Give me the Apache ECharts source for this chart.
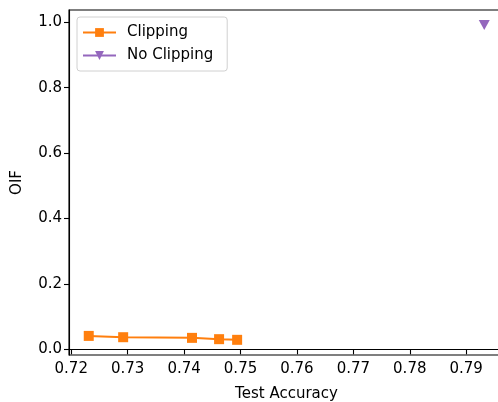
<!DOCTYPE html>
<html>
<head>
<meta charset="utf-8">
<script src="https://cdn.jsdelivr.net/npm/echarts@6/dist/echarts.min.js"></script>
<style>
html,body{margin:0;padding:0;background:#fff;}
#chart{width:498px;height:402px;}
</style>
</head>
<body>
<div id="chart"></div>
<script>
// data
var clipAcc = [0.7231, 0.7292, 0.7414, 0.7462, 0.7494];
var clipOif = [0.041, 0.037, 0.035, 0.031, 0.029];
var noClipAcc = [0.7932];
var noClipOif = [0.992];
var xTicks = [0.72, 0.73, 0.74, 0.75, 0.76, 0.77, 0.78, 0.79];
var yTicks = [0.0, 0.2, 0.4, 0.6, 0.8, 1.0];

function pairs(xs, ys){
	var out = [];
	for(var i=0;i<xs.length;i++){
		out.push([xs[i], ys[i]]);
	}
	return out;
}

var font = 'DejaVu Sans';
var fs = 15;
var myChart = echarts.init(document.getElementById('chart'));
var option = {
	animation:false,
	backgroundColor:'#fff',
	textStyle:{fontFamily:font},
	grid:{
		left:69,
		top:10,
		width:435,
		height:345,
		outerBoundsMode:'none',
		containLabel:false,
		show:true,
		borderColor:'#000',
		borderWidth:1.1
	},
	legend:{
		orient:'vertical',
		left:77,
		top:17,
		padding:[8,14,8,5],
		itemGap:8,
		itemWidth:33,
		itemHeight:11,
		backgroundColor:'#fff',
		borderColor:'#d0d0d0',
		borderWidth:1,
		borderRadius:3,
		textStyle:{fontFamily:font, fontSize:fs, color:'#000', padding:[0,0,0,6]},
		data:['Clipping','No Clipping']
	},
	xAxis:{
		type:'value',
		min:0.7196,
		max:0.7967,
		name:'Test Accuracy',
		nameLocation:'middle',
		nameGap:32,
		nameTextStyle:{fontFamily:font, fontSize:fs, color:'#000'},
		splitLine:{show:false},
		axisLine:{lineStyle:{color:'#000', width:1.1}},
		axisTick:{show:true, length:5, lineStyle:{color:'#000', width:1.1}, customValues:xTicks},
		axisLabel:{
			color:'#000', fontSize:fs, fontFamily:font, margin:7,
			customValues:xTicks,
			formatter:function(v){return v.toFixed(2);}
		}
	},
	yAxis:{
		type:'value',
		min:-0.0174,
		max:1.0376,
		name:'OIF',
		nameLocation:'middle',
		nameGap:44,
		nameTextStyle:{fontFamily:font, fontSize:fs, color:'#000'},
		splitLine:{show:false},
		axisLine:{show:true, lineStyle:{color:'#000', width:1.1}},
		axisTick:{show:true, length:5, lineStyle:{color:'#000', width:1.1}, customValues:yTicks},
		axisLabel:{
			color:'#000', fontSize:fs, fontFamily:font, margin:7,
			customValues:yTicks,
			formatter:function(v){return v.toFixed(1);}
		}
	},
	series:[
		{
			name:'Clipping',
			type:'line',
			data:pairs(clipAcc, clipOif),
			symbol:'rect',
			symbolSize:10,
			showAllSymbol:true,
			itemStyle:{color:'#ff7f0e'},
			lineStyle:{color:'#ff7f0e', width:2}
		},
		{
			name:'No Clipping',
			type:'line',
			data:pairs(noClipAcc, noClipOif),
			symbol:'triangle',
			symbolRotate:180,
			symbolSize:[11,10],
			itemStyle:{color:'#9467bd'},
			lineStyle:{color:'#9467bd', width:2}
		}
	]
};
myChart.setOption(option);
</script>
</body>
</html>
